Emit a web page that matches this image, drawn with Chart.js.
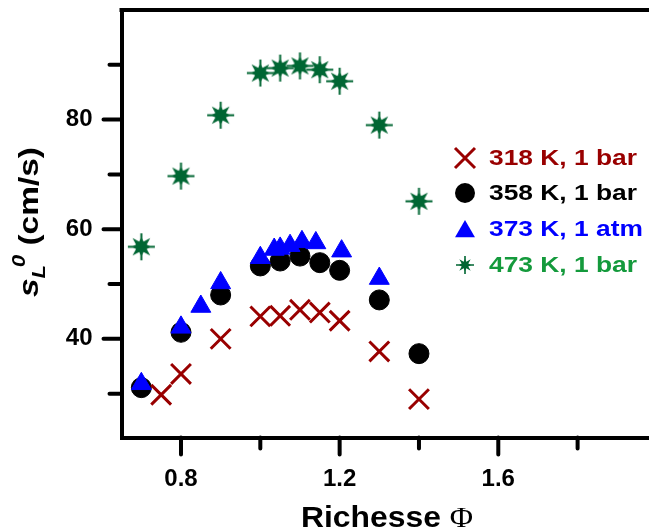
<!DOCTYPE html>
<html><head><meta charset="utf-8">
<style>html,body{margin:0;padding:0;overflow:hidden;background:#fff}canvas{display:block}</style>
<script src="https://cdn.jsdelivr.net/npm/chart.js@4/dist/chart.umd.min.js"></script>
</head><body><canvas id="c" width="649" height="531"></canvas>
<script>
// ---- data ----
const phi318=[0.75,0.8,0.9,1.0,1.05,1.1,1.15,1.2,1.3,1.4];
const sl318=[29.8,33.6,40.0,44.1,44.2,45.3,44.8,43.3,37.7,29.0];
const phi358=[0.7,0.8,0.9,1.0,1.05,1.1,1.15,1.2,1.3,1.4];
const sl358=[31.1,41.2,48.0,53.3,54.2,55.1,53.9,52.5,47.1,37.3];
const phi373=[0.7,0.8,0.85,0.9,1.0,1.035,1.05,1.075,1.105,1.14,1.205,1.3];
const sl373=[31.8,42.1,45.9,50.2,54.8,56.3,56.5,57.0,57.7,57.5,56.0,51.0];
const phi473=[0.7,0.8,0.9,1.0,1.05,1.1,1.15,1.2,1.3,1.4];
const sl473=[56.8,69.7,80.8,88.5,89.4,89.8,89.1,87.0,79.0,65.1];
const seriesLabels=['318 K, 1 bar','358 K, 1 bar','373 K, 1 atm','473 K, 1 bar'];
const xTickLabels=[0.8,1.2,1.6];
const xMinorTicks=[1.0,1.4,1.8];
const yTickLabels=[40,60,80];
const yMinorTicks=[30,50,70,90];

const RED='#990000', BLUE='#0000ff', GREEN='#006633', GREEN_TXT='#149a3c';
const FONT='"Liberation Sans", Arial, sans-serif';

function makeStar(thin, diag, orth, inner, lw, color){
  const s=Math.ceil(thin*2+4);
  const c=document.createElement('canvas'); c.width=c.height=s;
  const g=c.getContext('2d'); const m=s/2;
  g.strokeStyle=color; g.lineWidth=lw;
  g.beginPath(); g.moveTo(m-thin,m); g.lineTo(m+thin,m); g.moveTo(m,m-thin); g.lineTo(m,m+thin); g.stroke();
  g.fillStyle=color; g.beginPath();
  for(let i=0;i<16;i++){
    const a=i*Math.PI/8;
    const r=(i%2)?inner:((i%4===0)?orth:diag);
    const px=m+r*Math.cos(a), py=m+r*Math.sin(a);
    if(i===0) g.moveTo(px,py); else g.lineTo(px,py);
  }
  g.closePath(); g.fill();
  return c;
}
const starBig=makeStar(13.5,12.5,9.5,5.8,2,GREEN);
const starSmall=makeStar(9,8,6,3.6,1.6,GREEN);

const pts=(xs,ys)=>xs.map((x,i)=>({x,y:ys[i]}));
const zeroPad=s=>{s.paddingTop=0;s.paddingBottom=0;s.paddingLeft=0;s.paddingRight=0;};

const decor={
  id:'decor',
  afterDraw(chart){
    const {ctx,chartArea:a,scales:{x,y}}=chart;
    ctx.save();
    ctx.strokeStyle='#000'; ctx.lineWidth=4; ctx.lineCap='butt';
    ctx.beginPath(); ctx.moveTo(a.left-2,a.top); ctx.lineTo(a.right,a.top); ctx.stroke();
    ctx.lineCap='round';
    ctx.beginPath();
    xTickLabels.forEach(v=>{const p=x.getPixelForValue(v); ctx.moveTo(p,a.bottom); ctx.lineTo(p,a.bottom+17);});
    xMinorTicks.forEach(v=>{const p=x.getPixelForValue(v); ctx.moveTo(p,a.bottom); ctx.lineTo(p,a.bottom+11);});
    yTickLabels.forEach(v=>{const p=y.getPixelForValue(v); ctx.moveTo(a.left,p); ctx.lineTo(a.left-18,p);});
    yMinorTicks.forEach(v=>{const p=y.getPixelForValue(v); ctx.moveTo(a.left,p); ctx.lineTo(a.left-12,p);});
    ctx.stroke();

    // x title
    ctx.fillStyle='#000'; ctx.textBaseline='alphabetic'; ctx.textAlign='left';
    ctx.font='bold 30px '+FONT;
    const w1=ctx.measureText('Richesse ').width;
    ctx.font='30px "Liberation Serif", serif';
    const w2=ctx.measureText('\u03A6').width;
    const sx=(473-301)/(w1+w2);
    ctx.save(); ctx.translate(301,527); ctx.scale(sx,1);
    ctx.font='bold 30px '+FONT; ctx.fillText('Richesse ',0,0);
    ctx.font='30px "Liberation Serif", serif'; ctx.fillText('\u03A6',w1,0);
    ctx.restore();

    // y title
    const fMain='italic bold 27px '+FONT, fSub='italic bold 18px '+FONT, fReg='bold 27px '+FONT;
    ctx.font=fMain; const ws=ctx.measureText('s').width;
    ctx.font=fSub; const wL=ctx.measureText('L').width; const w0=ctx.measureText('0').width;
    ctx.font=fReg; const wr=ctx.measureText(' (cm/s)').width;
    const supStart=ws+wL-2;
    const total=supStart+w0+wr;
    const sy=(297-147)/total;
    ctx.save(); ctx.translate(38,297); ctx.rotate(-Math.PI/2); ctx.scale(sy,1);
    ctx.font=fMain; ctx.fillText('s',0,0);
    ctx.font=fSub; ctx.fillText('L',ws,7); ctx.fillText('0',supStart,-13);
    ctx.font=fReg; ctx.fillText(' (cm/s)',supStart+w0,0);
    ctx.restore();

    // legend
    const rows=[158,193,228.5,265];
    const mx=465, tx=489;
    ctx.font='bold 22px '+FONT; ctx.textBaseline='middle';
    const lsx=148/ctx.measureText(seriesLabels[0]).width;
    const cols=[RED,'#000',BLUE,GREEN_TXT];
    rows.forEach((ry,i)=>{
      ctx.save();
      if(i===0){ctx.strokeStyle=RED; ctx.lineWidth=3; ctx.lineCap='butt'; ctx.beginPath(); ctx.moveTo(mx-10,ry-10); ctx.lineTo(mx+10,ry+10); ctx.moveTo(mx+10,ry-10); ctx.lineTo(mx-10,ry+10); ctx.stroke();}
      if(i===1){ctx.fillStyle='#000'; ctx.beginPath(); ctx.arc(mx,ry,10,0,Math.PI*2); ctx.fill();}
      if(i===2){const r=11.5, cy=ry+r/4; ctx.fillStyle=BLUE; ctx.beginPath(); ctx.moveTo(mx,cy-r); ctx.lineTo(mx+r*0.866,cy+r/2); ctx.lineTo(mx-r*0.866,cy+r/2); ctx.closePath(); ctx.fill();}
      if(i===3){ctx.drawImage(starSmall,mx-starSmall.width/2,ry-starSmall.height/2);}
      ctx.restore();
      ctx.save(); ctx.translate(tx,ry+1); ctx.scale(lsx,1); ctx.fillStyle=cols[i]; ctx.fillText(seriesLabels[i],0,0); ctx.restore();
    });
    ctx.restore();
  }
};

const tickFont={family:FONT,size:24,weight:'bold'};
new Chart(document.getElementById('c'),{
  type:'scatter',
  data:{datasets:[
    {label:seriesLabels[0],data:pts(phi318,sl318),pointStyle:'crossRot',pointRadius:14,borderColor:RED,backgroundColor:RED,pointBorderWidth:3,order:0},
    {label:seriesLabels[1],data:pts(phi358,sl358),pointStyle:'circle',pointRadius:10,borderColor:'#000',backgroundColor:'#000',pointBorderWidth:1,order:2},
    {label:seriesLabels[2],data:pts(phi373,sl373),pointStyle:'triangle',pointRadius:11.5,borderColor:BLUE,backgroundColor:BLUE,pointBorderWidth:1,order:1},
    {label:seriesLabels[3],data:pts(phi473,sl473),pointStyle:starBig,pointRadius:13,borderColor:GREEN,backgroundColor:GREEN,order:3}
  ]},
  options:{
    responsive:false,animation:false,devicePixelRatio:1,
    layout:{autoPadding:false,padding:{top:10,left:0,right:0,bottom:0}},
    plugins:{legend:{display:false},tooltip:{enabled:false}},
    scales:{
      x:{type:'linear',position:'bottom',min:0.65,max:1.98,
        afterFit(s){s.height=93.5;zeroPad(s);},
        afterBuildTicks(s){s.ticks=xTickLabels.map(v=>({value:v}));},
        grid:{display:false},border:{display:true,width:4,color:'#000'},
        ticks:{font:tickFont,color:'#000',padding:19,maxRotation:0,autoSkip:false,callback:v=>Number(v).toFixed(1)}},
      y:{type:'linear',position:'left',min:22,max:100,
        afterFit(s){s.width=121.5;zeroPad(s);},
        afterBuildTicks(s){s.ticks=yTickLabels.map(v=>({value:v}));},
        grid:{display:false},border:{display:true,width:4,color:'#000'},
        ticks:{font:tickFont,color:'#000',padding:21,autoSkip:false,callback:v=>String(v)}}
    }
  },
  plugins:[decor]
});
</script></body></html>
